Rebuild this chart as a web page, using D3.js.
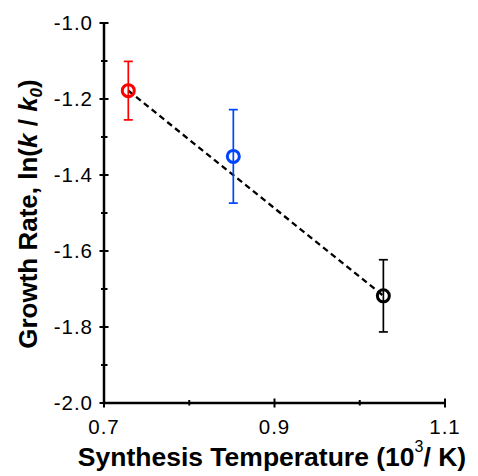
<!DOCTYPE html>
<html><head><meta charset="utf-8">
<script src="https://cdn.jsdelivr.net/npm/d3@7"></script>
<style>body{margin:0;background:#fff}svg{display:block}</style>
</head><body>
<script>
const xValues = [0.7285, 0.8517, 1.0277];
const yValues = [-1.178, -1.351, -1.718];
const yErrors = [0.077, 0.123, 0.095];
const colors = ["#ff0000", "#0044ff", "#000000"];
const xTicks = [0.7, 0.9, 1.1];
const xMinor = [0.8, 1.0];
const yTicks = [-2.0, -1.8, -1.6, -1.4, -1.2, -1.0];
const yMinor = [-1.9, -1.7, -1.5, -1.3, -1.1];

const W = 478, H = 476;
const svg = d3.select("body").append("svg").attr("width", W).attr("height", H);
const x = d3.scaleLinear().domain([0.7, 1.1]).range([104, 445]);
const y = d3.scaleLinear().domain([-2.0, -1.0]).range([403, 23]);
const font = "Liberation Sans, Arial, sans-serif";

// axes lines
svg.append("line").attr("x1", 104).attr("x2", 104).attr("y1", y(-1.0)).attr("y2", y(-2.0))
  .attr("stroke", "#000").attr("stroke-width", 2.5);
svg.append("line").attr("x1", x(0.7)).attr("x2", x(1.1)).attr("y1", 403).attr("y2", 403)
  .attr("stroke", "#000").attr("stroke-width", 2.5);

// y ticks
yTicks.forEach(v => {
  svg.append("line").attr("x1", 99.5).attr("x2", 108.5).attr("y1", y(v)).attr("y2", y(v))
    .attr("stroke", "#000").attr("stroke-width", 2);
  svg.append("text").attr("x", 93).attr("y", y(v)).attr("dy", "0.35em")
    .attr("text-anchor", "end").attr("font-family", font).attr("font-size", 20.5)
    .attr("letter-spacing", 1)
    .text(d3.format(".1f")(v).replace("−", "-"));
});
yMinor.forEach(v => {
  svg.append("line").attr("x1", 101).attr("x2", 107.5).attr("y1", y(v)).attr("y2", y(v))
    .attr("stroke", "#000").attr("stroke-width", 2);
});
// x ticks
xTicks.forEach(v => {
  svg.append("line").attr("x1", x(v)).attr("x2", x(v)).attr("y1", 398.5).attr("y2", 407.5)
    .attr("stroke", "#000").attr("stroke-width", 2);
  svg.append("text").attr("x", x(v)).attr("y", 434).attr("text-anchor", "middle")
    .attr("font-family", font).attr("font-size", 20.5).attr("letter-spacing", 1)
    .text(d3.format(".1f")(v));
});
xMinor.forEach(v => {
  svg.append("line").attr("x1", x(v)).attr("x2", x(v)).attr("y1", 400).attr("y2", 405.5)
    .attr("stroke", "#000").attr("stroke-width", 2);
});

// dashed fit line
svg.append("line")
  .attr("x1", x(xValues[0])).attr("y1", y(yValues[0]))
  .attr("x2", x(xValues[2])).attr("y2", y(yValues[2]))
  .attr("stroke", "#000").attr("stroke-width", 2.3).attr("stroke-dasharray", "6,4");

// error bars and markers
xValues.forEach((xv, i) => {
  const g = svg.append("g").attr("stroke", colors[i]);
  const cx = x(xv);
  const t = y(yValues[i] + yErrors[i]), b = y(yValues[i] - yErrors[i]);
  g.append("line").attr("x1", cx).attr("x2", cx).attr("y1", t).attr("y2", b).attr("stroke-width", 1.7);
  g.append("line").attr("x1", cx - 4.5).attr("x2", cx + 4.5).attr("y1", t).attr("y2", t).attr("stroke-width", 1.7);
  g.append("line").attr("x1", cx - 4.5).attr("x2", cx + 4.5).attr("y1", b).attr("y2", b).attr("stroke-width", 1.7);
  g.append("circle").attr("cx", cx).attr("cy", y(yValues[i])).attr("r", 6)
    .attr("fill", "#fff").attr("fill-opacity", 0).attr("stroke-width", 3);
});

// x title
const xt = svg.append("text").attr("x", 272).attr("y", 466).attr("text-anchor", "middle")
  .attr("font-family", font).attr("font-weight", "bold").attr("font-size", 26.5);
xt.append("tspan").text("Synthesis Temperature (10");
xt.append("tspan").attr("font-size", 16).attr("font-weight", "normal").attr("dy", -14).text("3");
xt.append("tspan").attr("dy", 14).text("/ K)");

// y title
const yt = svg.append("text").attr("transform", "translate(37,214) rotate(-90)")
  .attr("text-anchor", "middle").attr("font-family", font).attr("font-weight", "bold").attr("font-size", 26);
yt.append("tspan").text("Growth Rate, ln(");
yt.append("tspan").attr("font-style", "italic").text("k");
yt.append("tspan").text(" / ");
yt.append("tspan").attr("font-style", "italic").text("k");
yt.append("tspan").attr("font-style", "italic").attr("font-size", 17).attr("dy", 5).text("0");
yt.append("tspan").attr("dy", -5).text(")");
</script>
</body></html>
